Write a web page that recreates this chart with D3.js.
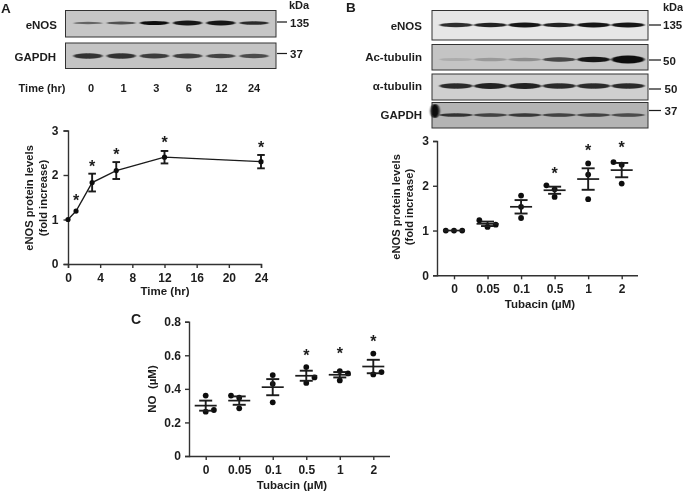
<!DOCTYPE html>
<html><head><meta charset="utf-8">
<script src="https://cdn.jsdelivr.net/npm/d3@7"></script>
<style>
html,body{margin:0;padding:0;background:#fff}
text{font-family:"Liberation Sans",Arial,sans-serif;font-weight:bold;fill:#1c1c1c}
</style></head><body>
<svg id="c" width="683" height="491"></svg>
<script>
// ---- data ----
const timeHours=[0,1,3,6,12,24];
const timeMeans=[1,1.19,1.83,2.1,2.4,2.3];
const timeErrors=[0,0,0.2,0.19,0.14,0.15];
const timeStars=[null,1.42,2.2,2.45,2.72,2.62];
const timeTicks=[0,4,8,12,16,20,24];
const timeLanes=["0","1","3","6","12","24"];

const doses=["0","0.05","0.1","0.5","1","2"];
const bValues=[[1,1,1],[1.23,1.08,1.13],[1.78,1.53,1.28],[2.01,1.92,1.75],[2.5,2.25,1.7],[2.53,2.47,2.05]];
const bSlots=[[-1,0,1],[-1,0,1],[0,0,0],[-1,0,0],[0,0,0],[-1,0,0]];
const bMeans=[1,1.15,1.53,1.9,2.15,2.35];
const bErrors=[0,0.05,0.15,0.08,0.24,0.16];
const bStars=[null,null,null,2.27,2.78,2.86];

const cValues=[[0.36,0.264,0.274],[0.36,0.347,0.284],[0.482,0.43,0.32],[0.53,0.435,0.468],[0.506,0.45,0.492],[0.61,0.486,0.5]];
const cSlots=[[0,0,1],[-1,0,0],[0,0,0],[0,0,1],[0,0,1],[0,0,1]];
const cMeans=[0.3,0.33,0.41,0.478,0.484,0.533];
const cErrors=[0.03,0.025,0.048,0.03,0.016,0.04];
const cStars=[null,null,null,0.6,0.61,0.68];

const blotsA=[
 {name:"eNOS",mw:"135",bg:"#c6c6c6",h:[.5,.65,1,.95,.95,.85],th:[1.8,2.2,3,3.6,3.6,2.8]},
 {name:"GAPDH",mw:"37",bg:"#c4c4c4",h:[.8,.8,.75,.75,.72,.68],th:[4,4,3.6,3.6,3.4,3.4]}];
const blotsB=[
 {name:"eNOS",mw:"135",bg:"#e6e6e6",h:[.85,.9,.95,.9,.95,.95],th:[3.2,3.4,3.6,3.4,3.6,3.6]},
 {name:"Ac-tubulin",mw:"50",bg:"#c4c4c4",h:[.12,.22,.28,.7,.95,1],th:[2.4,2.6,2.8,3.4,4.2,6]},
 {name:"α-tubulin",mw:"50",bg:"#cfcfcf",h:[.85,.9,.9,.85,.85,.85],th:[4,4.4,4.4,4,4,4]},
 {name:"GAPDH",mw:"37",bg:"#b4b4b4",h:[.8,.7,.75,.7,.7,.65],th:[2.6,2.6,2.8,2.6,2.6,2.6]}];

// ---- drawing ----
const svg=d3.select("#c");
const ink="#1a1a1a";
const defs=svg.append("defs");
defs.append("filter").attr("id","blur").attr("x","-30%").attr("y","-150%").attr("width","160%").attr("height","400%")
  .append("feGaussianBlur").attr("stdDeviation","1.2 0.7");
const soft=defs.append("filter").attr("id","soft");
soft.append("feGaussianBlur").attr("stdDeviation","0.3");
const g=svg.append("g").attr("filter","url(#soft)");

function label(t,x,y,size,anchor,rot){
  const e=g.append("text").text(t).attr("font-size",size).attr("text-anchor",anchor||"middle");
  if(rot) e.attr("transform",`translate(${x},${y}) rotate(${rot})`); else e.attr("x",x).attr("y",y);
  return e;
}
function drawBlot(b,x0,x1,y0,y1,laneX,bandHalf,bandY,labelX,labelY){
  g.append("rect").attr("x",x0).attr("y",y0).attr("width",x1-x0).attr("height",y1-y0)
    .attr("fill",b.bg).attr("stroke","#333").attr("stroke-width",1);
  g.append("g").attr("filter","url(#blur)").selectAll("ellipse").data(b.h).join("ellipse")
    .attr("cx",(d,i)=>laneX(i)).attr("cy",bandY).attr("rx",bandHalf).attr("ry",(d,i)=>b.th[i]/1.5)
    .attr("fill","#0c0c0c").attr("opacity",d=>d);
  label(b.name,labelX,labelY,11.5,"end");
}

// Panel letters
label("A",1,13,13.5,"start");
label("B",346,12,13.5,"start");
label("C",131,324,14,"start");

// Blots A
const laneA=d3.scalePoint().domain(d3.range(6)).range([88,254]);
drawBlot(blotsA[0],65.5,276,10.5,37,laneA,14.5,23,57,29);
drawBlot(blotsA[1],65.5,276,43,68.5,laneA,14.5,56,56,61);
g.append("line").attr("x1",277).attr("x2",287).attr("y1",22).attr("y2",22).attr("stroke",ink).attr("stroke-width",1.2);
g.append("line").attr("x1",277).attr("x2",287).attr("y1",53.5).attr("y2",53.5).attr("stroke",ink).attr("stroke-width",1.2);
label("135",290,27,11.5,"start");
label("37",290,58,11.5,"start");
label("kDa",289,9,11,"start");
label("Time (hr)",42,92,11,"middle");
const laneLabelA=d3.scalePoint().domain(timeLanes).range([91,254]);
g.selectAll(null).data(timeLanes).join("text").text(d=>d)
  .attr("x",d=>laneLabelA(d)).attr("y",92).attr("font-size",11).attr("text-anchor","middle");

// Blots B
const laneB=d3.scalePoint().domain(d3.range(6)).range([456,628]);
const rowsB=[[10.5,40,25,25,30,29],[44.5,70,59.5,60,61,65],[74,100,86,89,90,93],[102.5,128,115,110.5,119,115]];
blotsB.forEach((b,i)=>{
  const r=rowsB[i];
  drawBlot(b,432,648,r[0],r[1],laneB,16.5,r[2],422,r[4]);
  g.append("line").attr("x1",649).attr("x2",661).attr("y1",r[3]).attr("y2",r[3]).attr("stroke",ink).attr("stroke-width",1.2);
  label(b.mw,i==2||i==3?664.5:663,r[5],11.5,"start");
});
g.append("ellipse").attr("cx",435).attr("cy",111).attr("rx",4.5).attr("ry",7).attr("fill","#0a0a0a").attr("filter","url(#blur)");
label("kDa",663,11,11,"start");

// Error + stars helpers
function errBars(sel,x,y,means,errs,capHalf,w){
  means.forEach((m,i)=>{
    if(!errs[i]) return;
    const cx=x(i),up=y(m+errs[i]),dn=y(m-errs[i]);
    sel.append("line").attr("x1",cx).attr("x2",cx).attr("y1",up).attr("y2",dn).attr("stroke",ink).attr("stroke-width",w);
    [up,dn].forEach(v=>sel.append("line").attr("x1",cx-capHalf).attr("x2",cx+capHalf).attr("y1",v).attr("y2",v).attr("stroke",ink).attr("stroke-width",w));
  });
}
function stars(sel,x,y,vals){
  sel.selectAll(null).data(vals.map((v,i)=>({v,i})).filter(d=>d.v!=null)).join("text").text("*")
    .attr("x",d=>x(d.i)).attr("y",d=>y(d.v)+5.5).attr("font-size",16).attr("text-anchor","middle");
}
function styleAxis(a){
  a.select(".domain").attr("stroke","#333").attr("stroke-width",1.4);
  a.selectAll(".tick line").attr("stroke","#333").attr("stroke-width",1.4);
  a.selectAll("text").attr("font-size",12).attr("fill",ink);
}

// Panel A chart
const xA=d3.scaleLinear().domain([0,24]).range([68,261]);
const yA=d3.scaleLinear().domain([0,3]).range([264,130.5]);
const ga=g.append("g");
styleAxis(ga.append("g").attr("transform","translate(68,0)").call(d3.axisLeft(yA).tickValues([0,1,2,3]).tickFormat(d3.format("d")).tickSize(4.5).tickPadding(5)));
styleAxis(ga.append("g").attr("transform","translate(0,264)").call(d3.axisBottom(xA).tickValues(timeTicks).tickFormat(d3.format("d")).tickSize(4).tickPadding(5)));
ga.append("path").attr("fill","none").attr("stroke",ink).attr("stroke-width",1.3)
  .attr("d",d3.line().x((d,i)=>xA(timeHours[i])).y(d=>yA(d))(timeMeans));
errBars(ga,i=>xA(timeHours[i]),yA,timeMeans,timeErrors,3.8,1.9);
ga.selectAll("circle").data(timeMeans).join("circle").attr("cx",(d,i)=>xA(timeHours[i])).attr("cy",d=>yA(d)).attr("r",2.6).attr("fill","#111");
stars(ga,i=>xA(timeHours[i]),yA,timeStars);
label("Time (hr)",165,295,11.5);
label("eNOS protein levels",33,198,11.2,"middle",-90);
label("(fold increase)",47,198,11.2,"middle",-90);

// Scatter panel
function scatter(o){
  const x=d3.scalePoint().domain(doses).range(o.xr);
  const y=d3.scaleLinear().domain(o.yd).range(o.yr);
  const s=g.append("g");
  styleAxis(s.append("g").attr("transform",`translate(${o.ox},0)`).call(d3.axisLeft(y).tickValues(o.yt).tickFormat(o.fmt).tickSize(4).tickPadding(4)));
  styleAxis(s.append("g").attr("transform",`translate(0,${o.yr[0]})`).call(d3.axisBottom(x).tickSize(4).tickPadding(5)).call(a=>a.select(".domain").attr("d",`M${o.ox},0.5H${o.xEnd}`)));
  o.values.forEach((vals,i)=>{
    s.selectAll(null).data(vals).join("circle")
      .attr("cx",(d,j)=>x(doses[i])+o.slots[i][j]*8.2).attr("cy",d=>y(d)).attr("r",2.9).attr("fill","#111");
  });
  o.means.forEach((m,i)=>{
    s.append("line").attr("x1",x(doses[i])-11).attr("x2",x(doses[i])+11).attr("y1",y(m)).attr("y2",y(m)).attr("stroke",ink).attr("stroke-width",1.7);
  });
  errBars(s,i=>x(doses[i]),y,o.means,o.errs,6.5,1.9);
  stars(s,i=>x(doses[i]),y,o.stars);
}
scatter({xr:[454,621.7],yd:[0,3],yr:[275.3,141],ox:437,xEnd:638,yt:[0,1,2,3],fmt:d3.format("d"),values:bValues,slots:bSlots,means:bMeans,errs:bErrors,stars:bStars});
label("Tubacin (µM)",540,308,11.5);
label("eNOS protein levels",399.5,207,11.2,"middle",-90);
label("(fold increase)",412.5,207,11.2,"middle",-90);

scatter({xr:[205.7,373.3],yd:[0,0.8],yr:[456,321.7],ox:189,xEnd:390,yt:[0,0.2,0.4,0.6,0.8],fmt:d=>d===0?"0":d3.format(".1f")(d),values:cValues,slots:cSlots,means:cMeans,errs:cErrors,stars:cStars});
label("Tubacin (µM)",292,489,11.5);
label("NO\u00a0\u00a0(µM)",156,389,11.5,"middle",-90);
</script>
</body></html>
